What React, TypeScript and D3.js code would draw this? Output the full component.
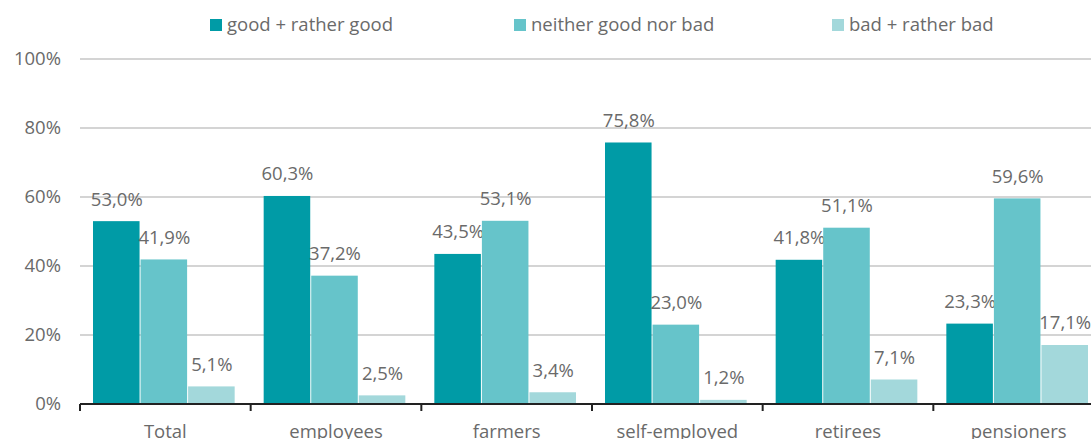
import React from "react";
import * as d3 from "d3";

const categories = ["Total", "employees", "farmers", "self-employed", "retirees", "pensioners"];
const seriesNames = ["good + rather good", "neither good nor bad", "bad + rather bad"];
const good = [53.0, 60.3, 43.5, 75.8, 41.8, 23.3];
const neither = [41.9, 37.2, 53.1, 23.0, 51.1, 59.6];
const bad = [5.1, 2.5, 3.4, 1.2, 7.1, 17.1];
const yTicks = [0, 20, 40, 60, 80, 100];
const colors = ["#009BA6", "#66C4CA", "#A3D8DB"];

const W = 1091, H = 439;
const left = 80, right = 1104, top = 59, bottom = 404;
const FONT = "'Open Sans', sans-serif";
const TEXT = "#6a6a6a";
const FS = 18.5;

export default function App() {
  const series = [good, neither, bad];
  const x = d3.scaleBand<string>().domain(categories).range([left, right]).paddingInner(0).paddingOuter(0);
  const x1 = d3.scaleBand<number>().domain([0, 1, 2]).range([13, x.bandwidth() - 15]).padding(0);
  const y = d3.scaleLinear().domain([0, 100]).range([bottom, top]);
  const fmt = (v: number) => v.toFixed(1).replace(".", ",") + "%";
  const legendX = [210, 514, 832];

  return (
    <svg width={W} height={H} style={{ position: "absolute", left: 0, top: 0, background: "#fff" }} fontFamily={FONT}>
      {yTicks.map((t) => (
        <g key={t}>
          {t > 0 && <line x1={left} x2={W} y1={y(t)} y2={y(t)} stroke="#C6C6C6" strokeWidth={1.3} />}
          <text x={61} y={y(t)} dy="0.35em" textAnchor="end" fontSize={FS} fill={TEXT}>{t}%</text>
        </g>
      ))}
      {categories.map((c, ci) => (
        <g key={c}>
          {series.map((s, si) => {
            const bx = (x(c) as number) + (x1(si) as number);
            const bw = x1.bandwidth();
            return (
              <g key={si}>
                <rect x={bx} y={y(s[ci])} width={bw - 1} height={bottom - y(s[ci])} fill={colors[si]} />
                <text x={bx + bw / 2} y={y(s[ci]) - 22} dy="0.35em" textAnchor="middle" fontSize={FS} fill={TEXT}>{fmt(s[ci])}</text>
              </g>
            );
          })}
          <text x={(x(c) as number) + x.bandwidth() / 2} y={432} dy="0.35em" textAnchor="middle" fontSize={FS} fill={TEXT}>{c}</text>
        </g>
      ))}
      <line x1={left} x2={W} y1={bottom} y2={bottom} stroke="#222" strokeWidth={2} />
      {categories.map((c) => (
        <line key={c} x1={(x(c) as number)} x2={(x(c) as number)} y1={bottom} y2={bottom + 7} stroke="#222" strokeWidth={2} />
      ))}
      {seriesNames.map((n, i) => (
        <g key={n}>
          <rect x={legendX[i]} y={19} width={12} height={12} fill={colors[i]} />
          <text x={legendX[i] + 17} y={25} dy="0.35em" fontSize={FS} fill={TEXT}>{n}</text>
        </g>
      ))}
    </svg>
  );
}
